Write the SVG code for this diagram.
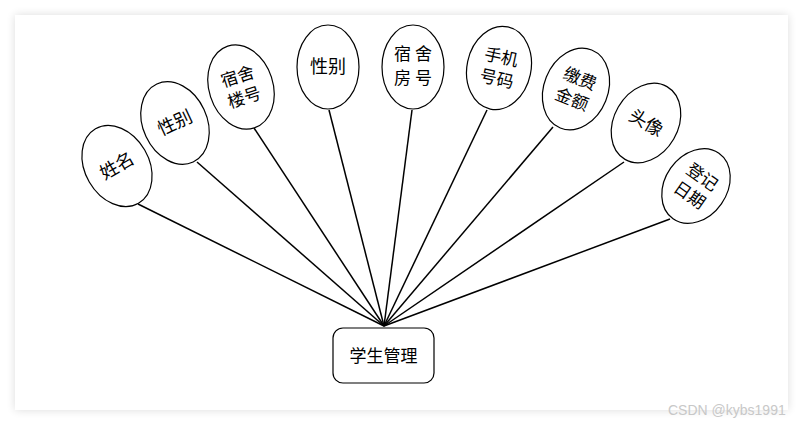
<svg xmlns="http://www.w3.org/2000/svg" width="804" height="426" viewBox="0 0 804 426">
<defs>
<filter id="sh" x="-5%" y="-5%" width="110%" height="110%">
<feGaussianBlur in="SourceAlpha" stdDeviation="5"/>
<feComponentTransfer><feFuncA type="linear" slope="0.14"/></feComponentTransfer>
<feMerge><feMergeNode/><feMergeNode in="SourceGraphic"/></feMerge>
</filter>
</defs>
<style>
.e{fill:#fff;stroke:#000;stroke-width:1.2}
.t{font-family:"Noto Sans CJK SC","Noto Sans CJK JP",sans-serif;font-size:17px;fill:#000;text-anchor:middle}
.s{font-size:18px}
.c{stroke:#000;stroke-width:1.5;fill:none}
.wm{font-family:"Liberation Sans",Arial,sans-serif;font-size:14px;fill:#c8c8c8}
</style>
<rect width="804" height="426" fill="#fff"/>
<rect x="15" y="15" width="773" height="395" fill="#fff" filter="url(#sh)"/>
<g id="connectors">
<line class="c" x1="138" y1="204" x2="384" y2="326"/>
<line class="c" x1="197" y1="162" x2="384" y2="326"/>
<line class="c" x1="254" y1="128" x2="384" y2="326"/>
<line class="c" x1="329" y1="110" x2="384" y2="326"/>
<line class="c" x1="412" y1="110" x2="384" y2="326"/>
<line class="c" x1="487" y1="110" x2="384" y2="326"/>
<line class="c" x1="553" y1="127" x2="384" y2="326"/>
<line class="c" x1="624" y1="162" x2="384" y2="326"/>
<line class="c" x1="670" y1="219" x2="384" y2="326"/>
</g>
<g id="n1" transform="translate(117,166) rotate(-30)">
<ellipse class="e" rx="32" ry="43"/>
<text class="t s" y="6">姓名</text>
</g>
<g id="n2" transform="translate(175,123) rotate(-25)">
<ellipse class="e" rx="32" ry="43"/>
<text class="t s" y="6">性别</text>
</g>
<g id="n3" transform="translate(241,87) rotate(-18)">
<ellipse class="e" rx="32" ry="43"/>
<text class="t" y="-5">宿舍</text>
<text class="t" y="17">楼号</text>
</g>
<g id="n4" transform="translate(328,67)">
<ellipse class="e" rx="31" ry="42"/>
<text class="t s" y="6">性别</text>
</g>
<g id="n5" transform="translate(413,67)">
<ellipse class="e" rx="31" ry="42"/>
<text class="t" x="2" y="-7" letter-spacing="4">宿舍</text>
<text class="t" x="2" y="17" letter-spacing="4">房号</text>
</g>
<g id="n6" transform="translate(499,68) rotate(12)">
<ellipse class="e" rx="32" ry="42"/>
<text class="t" y="-5">手机</text>
<text class="t" y="17">号码</text>
</g>
<g id="n7" transform="translate(576,89) rotate(22)">
<ellipse class="e" rx="32" ry="42"/>
<text class="t" y="-5">缴费</text>
<text class="t" y="17">金额</text>
</g>
<g id="n8" transform="translate(646,123) rotate(30)">
<ellipse class="e" rx="32" ry="42"/>
<text class="t s" y="6">头像</text>
</g>
<g id="n9" transform="translate(696,186) rotate(35)">
<ellipse class="e" rx="31" ry="40"/>
<text class="t" y="-5">登记</text>
<text class="t" y="17">日期</text>
</g>
<g id="root">
<rect class="e" x="333" y="328" width="101" height="55" rx="10"/>
<text class="t" x="383.500" y="362" font-size="18">学生管理</text>
</g>
<text class="wm" x="668" y="415">CSDN @kybs1991</text>
</svg>
